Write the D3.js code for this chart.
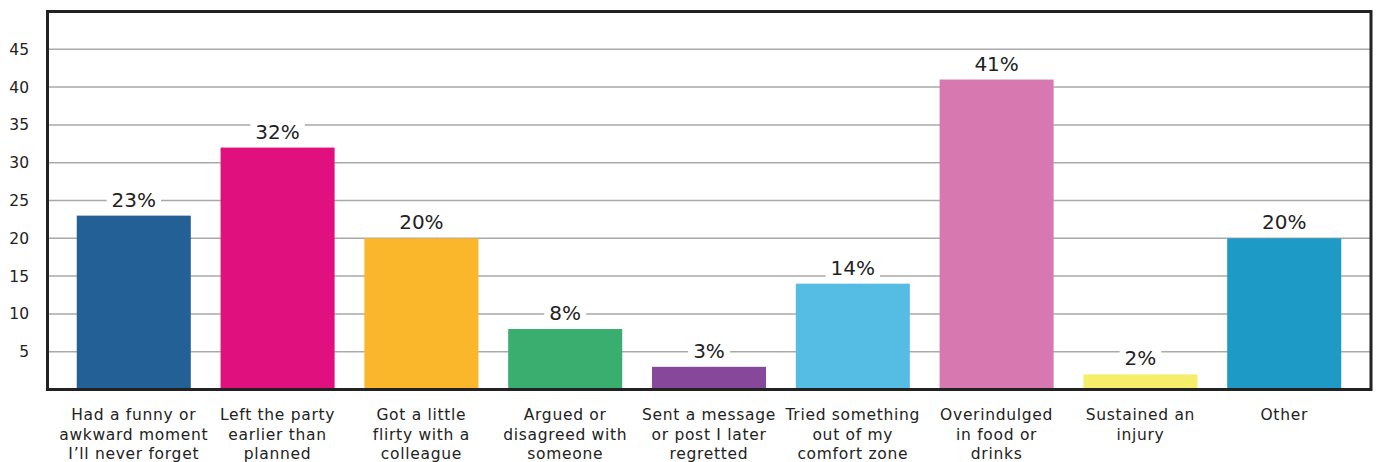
<!DOCTYPE html>
<html>
<head>
<meta charset="utf-8">
<script src="https://cdn.jsdelivr.net/npm/d3@7"></script>
<style>
  html, body { margin: 0; padding: 0; background: #fff; }
  svg { display: block; }
  text { font-family: "DejaVu Sans", "Noto Sans", sans-serif; fill: #222; }
</style>
</head>
<body>
<svg id="chart" width="1376" height="462"></svg>
<script>
const categories = [
  ["Had a funny or", "awkward moment", "I\u2019ll never forget"],
  ["Left the party", "earlier than", "planned"],
  ["Got a little", "flirty with a", "colleague"],
  ["Argued or", "disagreed with", "someone"],
  ["Sent a message", "or post I later", "regretted"],
  ["Tried something", "out of my", "comfort zone"],
  ["Overindulged", "in food or", "drinks"],
  ["Sustained an", "injury"],
  ["Other"]
];
const values = [23, 32, 20, 8, 3, 14, 41, 2, 20];
const colors = ["#236096", "#E0107F", "#FBB72C", "#3AAE6E", "#87479A", "#55BCE4", "#D779B0", "#F5EE6A", "#1E9AC6"];
const yTicks = [5, 10, 15, 20, 25, 30, 35, 40, 45];

const svg = d3.select("#chart");
const mLeft = 48, mRight = 1370, mTop = 11.5, mBottom = 389.5;

const x = d3.scaleBand()
  .domain(d3.range(values.length))
  .range([mLeft, mRight])
  .paddingInner(0.207)
  .paddingOuter(0.2);

const y = d3.scaleLinear().domain([0, 50]).range([mBottom, mTop]);

// gridlines
svg.append("g")
  .selectAll("line")
  .data(yTicks)
  .join("line")
  .attr("x1", mLeft).attr("x2", mRight)
  .attr("y1", d => y(d)).attr("y2", d => y(d))
  .attr("stroke", "#a9a9a9")
  .attr("stroke-width", 1.5);

// y axis labels
const yAxis = d3.axisLeft(y).tickValues(yTicks).tickSize(0).tickPadding(0);
const gy = svg.append("g").attr("transform", `translate(29,0)`).call(yAxis);
gy.select(".domain").remove();
gy.selectAll("text")
  .attr("font-size", 15.5)
  .attr("font-family", "DejaVu Sans, sans-serif")
  .attr("fill", "#222");

// bars
svg.append("g")
  .selectAll("rect")
  .data(values)
  .join("rect")
  .attr("x", (d, i) => x(i))
  .attr("width", x.bandwidth())
  .attr("y", d => y(d))
  .attr("height", d => y(0) - y(d))
  .attr("fill", (d, i) => colors[i]);

// value labels with white background
const lab = svg.append("g")
  .selectAll("g")
  .data(values)
  .join("g")
  .attr("transform", (d, i) => `translate(${x(i) + x.bandwidth() / 2},${y(d) - 9})`);
const txt = lab.append("text")
  .attr("text-anchor", "middle")
  .attr("font-size", 20)
  .attr("font-family", "DejaVu Sans, sans-serif")
  .attr("fill", "#2a2a2a")
  .text(d => d + "%");
txt.each(function () {
  const b = this.getBBox();
  d3.select(this.parentNode).insert("rect", "text")
    .attr("x", b.x - 5).attr("y", b.y + 2)
    .attr("width", b.width + 10).attr("height", b.height - 4)
    .attr("fill", "#fff");
});

// frame
svg.append("rect")
  .attr("x", mLeft - 0.5).attr("y", mTop)
  .attr("width", mRight - mLeft + 1.5).attr("height", mBottom - mTop)
  .attr("fill", "none")
  .attr("stroke", "#222")
  .attr("stroke-width", 3);

// x category labels
const xl = svg.append("g")
  .selectAll("text")
  .data(categories)
  .join("text")
  .attr("text-anchor", "middle")
  .attr("font-size", 15.5)
  .attr("letter-spacing", "0.7px")
  .attr("x", (d, i) => x(i) + x.bandwidth() / 2)
  .attr("y", 420);
xl.selectAll("tspan")
  .data(d => d)
  .join("tspan")
  .attr("x", function () { return this.parentNode.getAttribute("x"); })
  .attr("dy", (d, i) => i === 0 ? 0 : 19.5)
  .text(d => d);
</script>
</body>
</html>
